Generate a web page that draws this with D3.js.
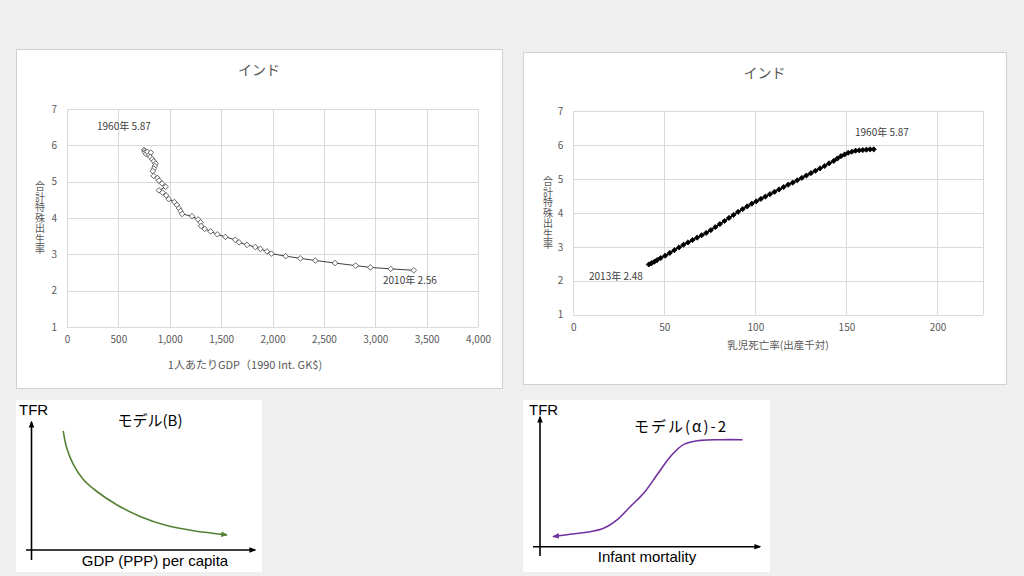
<!DOCTYPE html>
<html><head><meta charset="utf-8">
<script src="https://cdn.jsdelivr.net/npm/d3@7"></script>
<style>
body{margin:0;background:#efefef;}
svg{display:block;}
text{font-family:"Noto Sans CJK JP","Noto Sans",sans-serif;}
</style></head>
<body><svg id="c" width="1024" height="576"></svg>
<script>
// ---- data: chart 1 (GDP per capita vs TFR, India 1960-2010)
const gdpYears = d3.range(1960, 2011);
const gdpValues = [750,758,762,770,782,800,816,810,830,845,862,855,845,835,843,880,895,925,960,895,930,965,990,1045,1070,1090,1105,1120,1216,1275,1300,1305,1340,1398,1463,1541,1638,1674,1752,1833,1882,1946,1989,2128,2271,2417,2608,2809,2952,3150,3375];
const tfrByGdp = [5.87,5.84,5.80,5.76,5.82,5.74,5.80,5.68,5.62,5.56,5.50,5.43,5.36,5.29,5.16,5.10,5.03,4.95,4.86,4.76,4.70,4.62,4.52,4.44,4.36,4.27,4.19,4.11,4.05,3.96,3.88,3.78,3.70,3.63,3.55,3.48,3.40,3.33,3.26,3.20,3.15,3.08,3.02,2.95,2.89,2.83,2.76,2.69,2.64,2.60,2.56];
const gdpTicks = [0,500,1000,1500,2000,2500,3000,3500,4000];
const tfrTicks = [1,2,3,4,5,6,7];

// ---- data: chart 2 (infant mortality vs TFR, India 1960-2013)
const imrYears = d3.range(1960, 2014);
const imrValues = [165,163,161,159,157,155,153,151,149,147,145,143,140.5,138,135.5,133,130.5,128,125.5,123,120.5,118,115.5,113,110.5,108,105.5,103,100.5,98,95.5,93,90.5,88,85.5,83,80.5,78,75.5,73,70.5,68,65.5,63,60.5,58,55.5,53,50.5,48,46,44.5,43,41.5];
const tfrByImr = [5.87,5.87,5.86,5.85,5.84,5.83,5.80,5.77,5.72,5.67,5.60,5.53,5.46,5.38,5.31,5.24,5.17,5.10,5.03,4.96,4.89,4.83,4.76,4.69,4.62,4.55,4.48,4.41,4.34,4.27,4.19,4.11,4.03,3.94,3.85,3.76,3.67,3.58,3.49,3.41,3.34,3.27,3.20,3.13,3.06,2.98,2.90,2.82,2.74,2.67,2.61,2.56,2.52,2.48];
const imrTicks = [0,50,100,150,200];

// ---- conceptual model curves (0-100 schematic units)
const modelBx = [14.2,15.7,18.7,23.2,29.1,38.1,48.6,60.5,72.5,87.4];
const modelBy = [93.1,80.1,66.9,55.1,45.9,35.4,26.2,19.1,15.0,11.8];
const modelAx = [6.1,13.7,21.3,28.9,35.0,41.1,47.2,53.3,59.4,65.4,73.1,82.2,92.1];
const modelAy = [7.8,9.6,11.1,14.2,20.7,31.0,41.4,55.6,69.8,78.9,82.0,82.5,82.5];

const svg = d3.select("#c");
const defs = svg.append("defs");
function arrow(id, color){
  defs.append("marker").attr("id",id).attr("viewBox","0 0 10 10").attr("refX",8).attr("refY",5)
    .attr("markerWidth",7).attr("markerHeight",7).attr("markerUnits","userSpaceOnUse")
    .attr("orient","auto-start-reverse")
    .append("path").attr("d","M0,1 L10,5 L0,9 Z").attr("fill",color);
}
arrow("ak","#000"); arrow("ag","#548235"); arrow("ap","#7030a0");

const grid = "#d9d9d9", txt = "#595959";

function panel(x,y,w,h){
  svg.append("rect").attr("x",x+0.5).attr("y",y+0.5).attr("width",w).attr("height",h)
    .attr("fill","#fff").attr("stroke","#d0d0d0");
}

function scatterChart(o){
  panel(o.px,o.py,o.pw,o.ph);
  const g = svg.append("g");
  const x = d3.scaleLinear().domain(o.xdom).range(o.xr);
  const y = d3.scaleLinear().domain([1,7]).range(o.yr);
  g.selectAll(".gy").data(tfrTicks).join("line")
    .attr("x1",o.xr[0]).attr("x2",o.xr[1]).attr("y1",d=>Math.round(y(d))+0.5).attr("y2",d=>Math.round(y(d))+0.5)
    .attr("stroke",grid);
  g.selectAll(".gx").data(o.xGrid).join("line")
    .attr("y1",o.yr[0]).attr("y2",o.yr[1]).attr("x1",d=>Math.round(x(d))+0.5).attr("x2",d=>Math.round(x(d))+0.5)
    .attr("stroke",grid);
  const ax = g.append("g").attr("transform",`translate(0,${o.yr[0]+6})`)
    .call(d3.axisBottom(x).tickValues(o.xticks).tickFormat(d3.format(",")).tickSize(0));
  ax.select(".domain").remove();
  ax.selectAll("text").attr("fill",txt).style("font-size","10px").style("font-family",'"Noto Sans CJK JP",sans-serif');
  const ay = g.append("g").attr("transform",`translate(${o.xr[0]-7},0)`)
    .call(d3.axisLeft(y).tickValues(tfrTicks).tickFormat(d3.format("d")).tickSize(0));
  ay.select(".domain").remove();
  ay.selectAll("text").attr("fill",txt).style("font-size","10px").style("font-family",'"Noto Sans CJK JP",sans-serif');
  g.append("text").attr("x",o.px+o.pw/2).attr("y",o.titleY).attr("text-anchor","middle")
    .attr("fill",txt).style("font-size","14px").text("インド");
  g.append("text").attr("x",o.xtX).attr("y",o.xtY).attr("text-anchor","middle")
    .attr("fill",txt).style("font-size",o.xtSize).text(o.xtitle);
  g.append("text").attr("x",o.ytX).attr("y",o.ytY).attr("text-anchor","middle")
    .style("writing-mode","vertical-rl").style("text-orientation","upright").style("letter-spacing","0.5px")
    .attr("fill",txt).style("font-size","10px").text("合計特殊出生率");
  const pts = o.xs.map((v,i)=>[x(v),y(o.ys[i])]);
  g.append("path").attr("d",d3.line()(pts)).attr("fill","none")
    .attr("stroke",o.lineColor).attr("stroke-width",o.lineW);
  const dm = (cx,cy,r)=>`M${cx},${cy-r}L${cx+r},${cy}L${cx},${cy+r}L${cx-r},${cy}Z`;
  g.selectAll(".m").data(pts).join("path").attr("d",d=>dm(d[0],d[1],o.mr))
    .attr("fill",o.mFill).attr("stroke",o.mStroke).attr("stroke-width",0.8);
  o.labels.forEach(l=>{
    g.append("text").attr("x",l.x).attr("y",l.y).attr("dominant-baseline","central")
      .attr("fill","#404040").style("font-size","10px").text(l.t);
  });
}

scatterChart({
  px:16,py:49,pw:486,ph:339,
  xdom:[0,4000], xr:[67,478], yr:[327,109],
  xticks:gdpTicks, xGrid:gdpTicks,
  titleY:75, xtX:245, xtY:369, xtSize:"11px", ytX:40, ytY:218,
  xtitle:"1人あたりGDP（1990  Int. GK$)",
  xs:gdpValues, ys:tfrByGdp, lineColor:"#404040", lineW:1,
  mr:2.8, mFill:"#fff", mStroke:"#404040",
  labels:[{x:97,y:125,t:"1960年 5.87"},{x:383,y:279,t:"2010年 2.56"}]
});

scatterChart({
  px:523,py:52,pw:483,ph:332,
  xdom:[0,225], xr:[573.3,983], yr:[314.7,111],
  xticks:imrTicks, xGrid:[0,50,100,150,200,225],
  titleY:78, xtX:778, xtY:349, xtSize:"10.5px", ytX:548, ytY:213,
  xtitle:"乳児死亡率(出産千対)",
  xs:imrValues, ys:tfrByImr, lineColor:"#000", lineW:1.5,
  mr:2.6, mFill:"#000", mStroke:"#000",
  labels:[{x:855,y:131.5,t:"1960年 5.87"},{x:589,y:275.5,t:"2013年 2.48"}]
});

function model(o){
  svg.append("rect").attr("x",o.bx).attr("y",o.by).attr("width",o.bw).attr("height",o.bh).attr("fill","#fff");
  const g = svg.append("g");
  const x = d3.scaleLinear().domain([0,100]).range([o.ox,o.xEnd]);
  const y = d3.scaleLinear().domain([0,100]).range([o.oy,o.yEnd]);
  g.append("line").attr("x1",o.ox).attr("x2",o.ox).attr("y1",o.yBottom).attr("y2",o.yEnd)
    .attr("stroke","#000").attr("stroke-width",1.6).attr("marker-end","url(#ak)");
  g.append("line").attr("x1",o.xStart).attr("x2",o.xEnd).attr("y1",o.oy).attr("y2",o.oy)
    .attr("stroke","#000").attr("stroke-width",1.6).attr("marker-end","url(#ak)");
  const pts = o.xs.map((v,i)=>[x(v),y(o.ys[i])]);
  g.append("path").attr("d",d3.line().curve(d3.curveCatmullRom)(pts)).attr("fill","none")
    .attr("stroke",o.color).attr("stroke-width",1.6).attr(o.markAt,`url(#${o.marker})`);
  const f = '"Liberation Sans",Arial,sans-serif';
  g.append("text").attr("x",o.tfrX).attr("y",o.tfrY).style("font-family",f).style("font-size","15px").text("TFR");
  g.append("text").attr("x",o.titleX).attr("y",o.titleY).attr("text-anchor","middle")
    .style("font-family",'"Noto Sans CJK JP",sans-serif').style("font-size","15px")
    .style("letter-spacing",o.titleLS || "0px").text(o.title);
  g.append("text").attr("x",o.xlX).attr("y",o.xlY).attr("text-anchor","middle")
    .style("font-family",f).style("font-size","15px").text(o.xlabel);
}

model({bx:16,by:400,bw:246,bh:172, ox:31.5,oy:550,xStart:26,xEnd:255,yEnd:422,yBottom:560,
  xs:modelBx, ys:modelBy, color:"#548235", marker:"ag", markAt:"marker-end",
  tfrX:19,tfrY:415, title:"モデル(B)", titleX:150, titleY:426, xlabel:"GDP (PPP) per capita", xlX:155, xlY:566});

model({bx:523,by:400,bw:247,bh:172, ox:540,oy:546.7,xStart:533,xEnd:760,yEnd:417,yBottom:556,
  xs:modelAx, ys:modelAy, color:"#7030a0", marker:"ap", markAt:"marker-start",
  tfrX:529,tfrY:415, title:"モデル(α)-2", titleX:681, titleY:432, titleLS:"2px", xlabel:"Infant mortality", xlX:647, xlY:562});
</script></body></html>
